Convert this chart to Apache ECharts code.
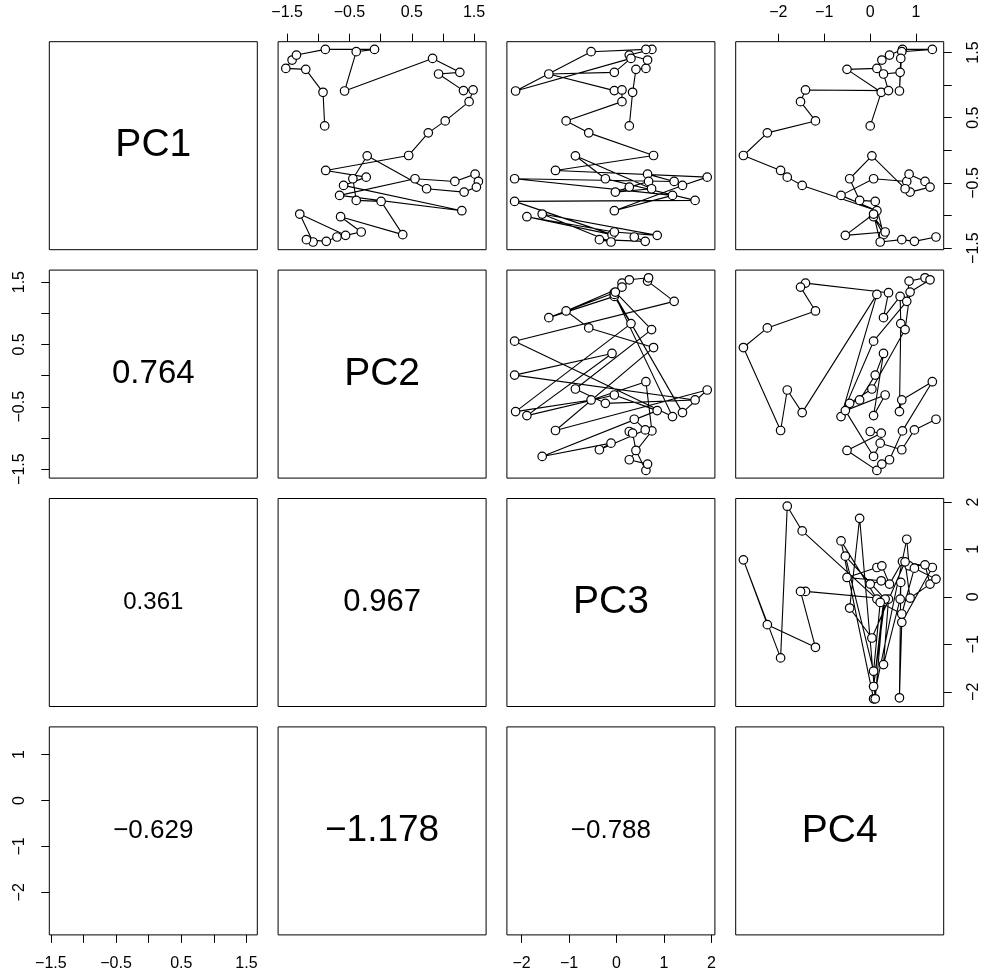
<!DOCTYPE html>
<html>
<head>
<meta charset="utf-8">
<script src="https://cdn.jsdelivr.net/npm/echarts@6/dist/echarts.min.js"></script>
<style>html,body{margin:0;padding:0;background:#fff;}#c{width:987px;height:980px;}</style>
</head>
<body>
<div id="c"></div>
<script>
// ---- data ----
const varNames = ['PC1', 'PC2', 'PC3', 'PC4'];
const pc1 = [0.375, 0.890, 1.242, 1.257, 1.385, 1.461, 1.548, 1.548, 1.513, 0.910, 1.410, 1.196, 1.171, 0.916, 0.926, 0.747, 0.451, 0.268, -0.079, -0.309, -0.411, -0.538, -0.926, -0.691, -0.436, -0.477, -0.365, -0.477, -0.564, -0.641, -0.589, -0.084, -0.436, -0.768, -0.783, -1.293, -1.018, -1.253, -1.304, -0.977, -1.406, -1.370, -1.396, -1.329];
const pc2 = [-0.897, -0.924, -1.201, -1.521, -1.420, -1.350, -0.887, -0.098, -0.391, -0.578, 0.834, 1.271, 0.930, 1.330, 1.484, 1.420, 1.037, 0.765, 0.450, -0.881, -0.231, -0.594, 1.303, -0.658, 0.552, 1.191, 1.516, 1.569, 1.537, 1.340, 0.738, -0.215, -0.445, -0.391, 0.008, 0.355, -0.642, -0.311, -0.562, -1.297, -1.084, -1.190, -0.871, -0.700];
const pc3 = [0.269, 0.339, 0.409, 0.619, 0.654, 0.269, 0.745, 0.619, -0.536, -2.126, 0.304, -0.046, -1.426, -0.046, 0.115, 0.115, -1.062, -0.585, 0.780, -1.286, 1.910, 1.389, -0.046, 1.179, -2.147, 1.214, 0.654, 0.675, 0.269, -0.025, 0.738, -0.866, -0.235, 1.655, -2.147, -0.095, -1.888, -0.046, 0.857, -1.566, -0.116, -0.361, 0.605, 0.374];
const pc4 = [0.002, 0.241, -0.504, 0.147, 0.255, 0.422, 0.704, 1.354, 0.689, 0.638, 0.667, 0.653, 0.291, 0.400, -1.408, -1.516, -1.191, -2.239, -2.760, -1.950, -1.805, -1.480, 0.147, -0.634, 0.075, 0.797, 0.848, 1.195, 1.304, 0.870, 0.761, 0.038, -0.446, -0.229, 0.111, 0.291, 0.075, 0.327, -0.540, 0.075, 0.219, 0.689, 0.964, 1.434];
// lower panels, order: (2,1),(3,1),(3,2),(4,1),(4,2),(4,3)
const lowerValues = [0.764, 0.361, 0.967, -0.629, -1.178, -0.788];
// tick positions / labels
const ticksPC12 = [-1.5, -1, -0.5, 0, 0.5, 1, 1.5];
const labelsPC12 = [-1.5, -0.5, 0.5, 1.5];
const ticksPC3 = [-2, -1, 0, 1, 2];
const ticksPC4 = [-2, -1, 0, 1];

// ---- layout / style ----
const pcs = [pc1, pc2, pc3, pc4];
const tickSets = [[ticksPC12, labelsPC12], [ticksPC12, labelsPC12], [ticksPC3, ticksPC3], [ticksPC4, ticksPC4]];
const colLeft = [49.3, 278.1, 506.9, 735.7];
const rowTop = [41.7, 270.1, 498.5, 726.9];
const SZ = 208;
const FONT = 'Liberation Sans, Arial, Helvetica, sans-serif';
const lowerFont = {'1,0': 33, '2,0': 24, '2,1': 31, '3,0': 26, '3,1': 37, '3,2': 26};

function rangeOf(a) {
  const mn = Math.min(...a), mx = Math.max(...a), d = mx - mn;
  return [mn - 0.04 * d, mx + 0.04 * d];
}
const ranges = pcs.map(rangeOf);
const fmt = v => (v < 0 ? '\u2212' : '') + String(Math.abs(v));
const fmt3 = v => (v < 0 ? '\u2212' : '') + Math.abs(v).toFixed(3);

const grids = [], xAxes = [], yAxes = [], series = [], graphics = [];
const showX = {'0,1': 'top', '0,3': 'top', '3,0': 'bottom', '3,2': 'bottom'};
const showY = {'1,0': 'left', '3,0': 'left', '0,3': 'right', '2,3': 'right'};

function axisCfg(type, varIdx, pos, gi) {
  const [ticks, labels] = tickSets[varIdx];
  const show = !!pos;
  return {
    type: 'value', gridIndex: gi, min: ranges[varIdx][0], max: ranges[varIdx][1],
    position: pos || (type === 'x' ? 'bottom' : 'left'),
    axisLine: {show: false, onZero: false},
    splitLine: {show: false},
    axisTick: {show: show, inside: false, length: 8, customValues: ticks, lineStyle: {color: '#000', width: 1}},
    axisLabel: {show: show, customValues: labels, formatter: fmt, color: '#000', fontSize: 16, fontFamily: FONT,
      margin: type === 'x' ? 21 : 22, rotate: type === 'y' ? 90 : 0},
    z: 5
  };
}

let lowerK = 0;
for (let i = 0; i < 4; i++) {
  for (let j = 0; j < 4; j++) {
    const gi = grids.length;
    const key = i + ',' + j;
    grids.push({left: colLeft[j], top: rowTop[i], width: SZ, height: SZ, show: true,
      borderColor: '#000', borderWidth: 1, backgroundColor: 'transparent', containLabel: false});
    xAxes.push(axisCfg('x', j, showX[key], gi));
    yAxes.push(axisCfg('y', i, showY[key], gi));
    const cx = colLeft[j] + SZ / 2, cy = rowTop[i] + SZ / 2;
    if (i < j) {
      series.push({
        type: 'line', xAxisIndex: gi, yAxisIndex: gi,
        data: pcs[j].map((v, k) => [v, pcs[i][k]]),
        symbol: 'circle', symbolSize: 8.5, showSymbol: true,
        lineStyle: {color: '#000', width: 1.1},
        itemStyle: {color: '#fff', borderColor: '#000', borderWidth: 1.2},
        silent: true, animation: false
      });
    } else if (i === j) {
      graphics.push({type: 'text', x: cx, y: cy, style: {text: varNames[i], font: '39px ' + FONT,
        fill: '#000', textAlign: 'center', textVerticalAlign: 'middle'}});
    } else {
      const v = lowerValues[lowerK++];
      graphics.push({type: 'text', x: cx, y: cy, style: {text: fmt3(v),
        font: lowerFont[key] + 'px ' + FONT, fill: '#000', textAlign: 'center', textVerticalAlign: 'middle'}});
    }
  }
}

const chart = echarts.init(document.getElementById('c'), null, {renderer: 'canvas'});
chart.setOption({
  backgroundColor: '#fff',
  animation: false,
  grid: grids, xAxis: xAxes, yAxis: yAxes, series: series,
  graphic: graphics
});
</script>
</body>
</html>
